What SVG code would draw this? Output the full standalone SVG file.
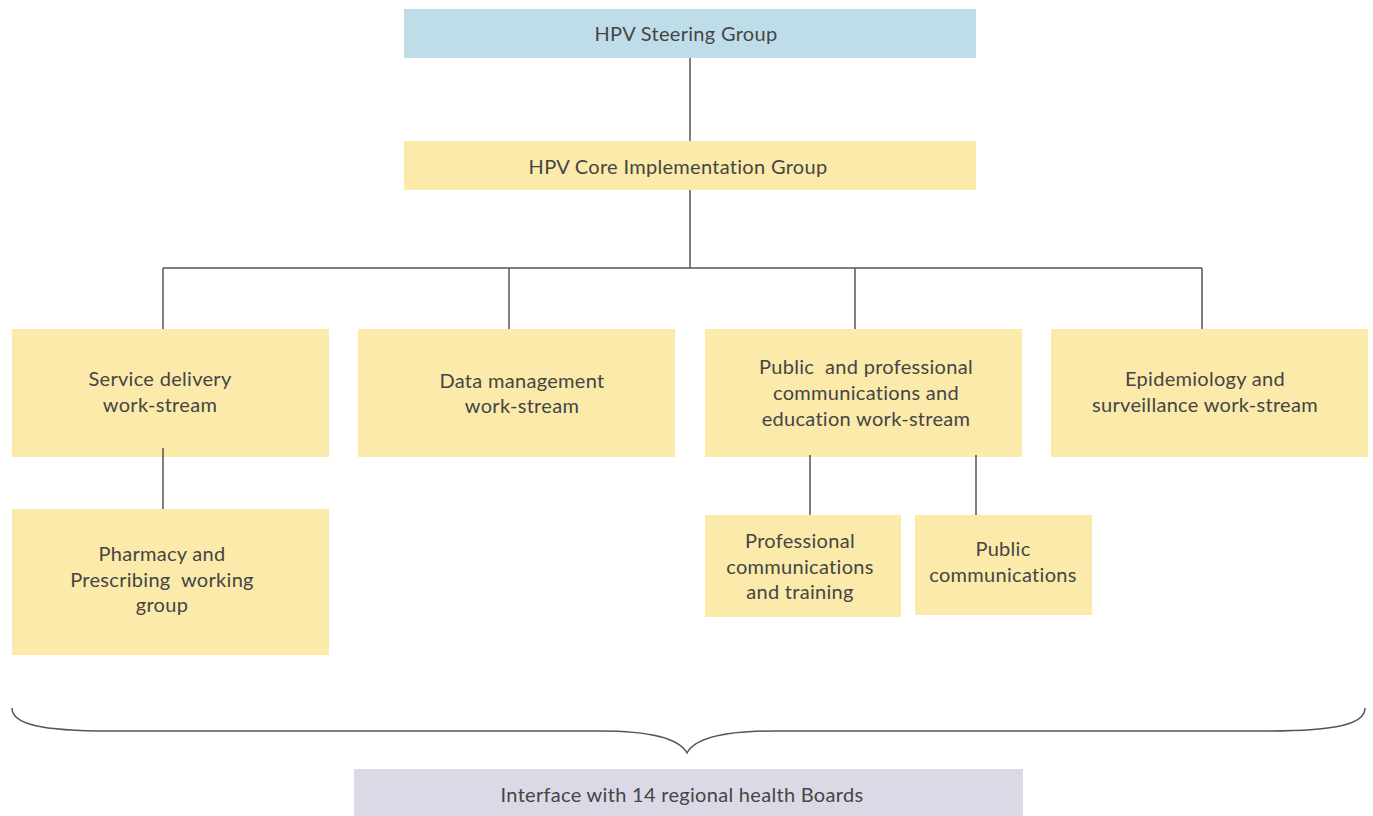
<svg xmlns="http://www.w3.org/2000/svg" width="1373" height="816" viewBox="0 0 1373 816">
<style>
.t{font-family:Lato,"Noto Sans",sans-serif;font-size:20px;fill:#454545;text-anchor:middle;letter-spacing:0.3px;white-space:pre}
.y{fill:#fbeaa9}
.c{stroke:#555;stroke-width:1.5;fill:none}
</style>
<rect width="1373" height="816" fill="#fff"/>
<g id="steering"><rect x="404" y="9" width="572" height="49" fill="#bfdde9"/><text class="t" x="686" y="41">HPV Steering Group</text></g>
<g id="core"><rect class="y" x="404" y="141" width="572" height="49"/><text class="t" x="678" y="174">HPV Core Implementation Group</text></g>
<g id="service"><rect class="y" x="12" y="329" width="317" height="128"/><text class="t" x="160" y="386">Service delivery</text><text class="t" x="160" y="412">work-stream</text></g>
<g id="data"><rect class="y" x="358" y="329" width="317" height="128"/><text class="t" x="522" y="388">Data management</text><text class="t" x="522" y="413">work-stream</text></g>
<g id="public-prof"><rect class="y" x="705" y="329" width="317" height="128"/><text class="t" x="866" y="374" xml:space="preserve">Public  and professional</text><text class="t" x="866" y="400">communications and</text><text class="t" x="866" y="426">education work-stream</text></g>
<g id="epi"><rect class="y" x="1051" y="329" width="317" height="128"/><text class="t" x="1205" y="386">Epidemiology and</text><text class="t" x="1205" y="412">surveillance work-stream</text></g>
<g id="pharmacy"><rect class="y" x="12" y="509" width="317" height="146"/><text class="t" x="162" y="561">Pharmacy and</text><text class="t" x="162" y="587" xml:space="preserve">Prescribing  working</text><text class="t" x="162" y="612">group</text></g>
<g id="prof-comm"><rect class="y" x="705" y="515" width="196" height="102"/><text class="t" x="800" y="548">Professional</text><text class="t" x="800" y="574">communications</text><text class="t" x="800" y="599">and training</text></g>
<g id="pub-comm"><rect class="y" x="915" y="515" width="177" height="100"/><text class="t" x="1003" y="556">Public</text><text class="t" x="1003" y="582">communications</text></g>
<g id="interface"><rect x="354" y="769" width="669" height="47" fill="#dcd9e6"/><text class="t" x="682" y="802">Interface with 14 regional health Boards</text></g>
<g id="connectors">
<path class="c" d="M690,58V141M690,190V268M163,268H1202M163,268V329M509,268V329M855,268V329M1202,268V329M163,448V509M810,455V515M976,455V515"/>
<path class="c" d="M12,708C12,724 40,731 110,731L600,731C655,731 680,740 687,753C694,740 719,731 774,731L1267,731C1337,731 1365,724 1365,708"/>
</g>
</svg>
